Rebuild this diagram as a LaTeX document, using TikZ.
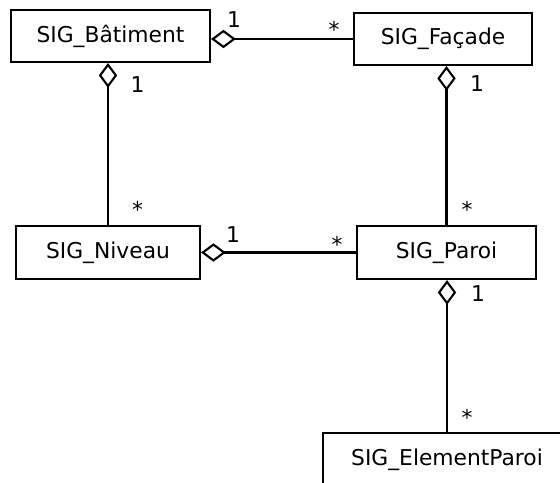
\documentclass[tikz,border=0pt]{standalone}
\usepackage{fontspec}
\setmainfont{DejaVu Sans}
\usetikzlibrary{arrows.meta}

\begin{document}
\begin{tikzpicture}[line width=1.5pt,
  classe/.style ={draw,rectangle,inner sep=0pt,minimum height=1.3cm,font=\fontsize{15.5}{18}\selectfont},
  mult/.style ={inner sep=0pt,font=\fontsize{15.5}{18}\selectfont},
  agg/.style ={{Diamond[open,length=0.62cm,width=0.46cm]}-}]

\useasboundingbox (0,0) rectangle (14,-12.075);
\clip (0,0) rectangle (14,-12.075);

\node[classe,minimum width=4.975cm] (bat) at (2.7625,-0.9) {SIG\_Bâtiment};
\node[classe,minimum width=4.45cm] (fac) at (11.075,-0.975) {SIG\_Façade};
\node[classe,minimum width=4.6cm,minimum height=1.325cm] (niv) at (2.7,-6.3125) {SIG\_Niveau};
\node[classe,minimum width=4.475cm,minimum height=1.325cm] (par) at (11.1625,-6.3125) {SIG\_Paroi};
\node[classe,minimum width=6.2cm,minimum height=1.325cm] (elt) at (11.175,-11.4875) {SIG\_ElementParoi};

\draw [agg] (bat.east |- fac.west) -- (fac.west);
\draw [agg] (bat.south -| niv.north) -- (niv.north);
\draw [agg] (fac.south -| par.north) -- (par.north);
\draw [agg] (niv.east) -- (par.west);
\draw [agg] (par.south -| elt.north) -- (elt.north);

%multiplicites
\node[mult] (m1) at (5.85,-0.5) {1};
\node[mult] (m2) at (8.35,-0.725) {*};
\node[mult] (m3) at (3.4375,-2.1125) {1};
\node[mult] (m4) at (3.4375,-5.225) {*};
\node[mult] (m5) at (11.925,-2.1) {1};
\node[mult] (m6) at (11.675,-5.225) {*};
\node[mult] (m7) at (5.825,-5.875) {1};
\node[mult] (m8) at (8.425,-6.1) {*};
\node[mult] (m9) at (11.95,-7.35) {1};
\node[mult] (m10) at (11.675,-10.425) {*};
\end{tikzpicture}
\end{document}
